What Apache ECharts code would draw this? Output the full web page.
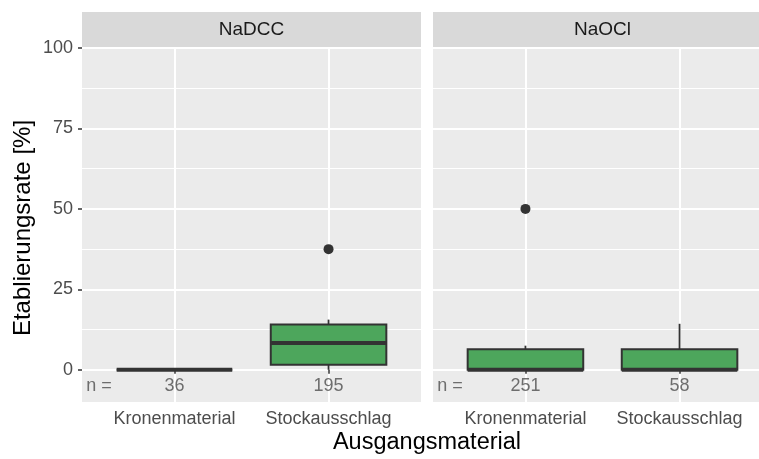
<!DOCTYPE html>
<html>
<head>
<meta charset="utf-8">
<script src="https://cdn.jsdelivr.net/npm/echarts@6/dist/echarts.min.js"></script>
<style>html,body{margin:0;padding:0;background:#fff}#c{width:759px;height:459px}</style>
</head>
<body>
<div id="c"></div>
<script>
// ---- data ----
const facets = ['NaDCC', 'NaOCl'];
const categories = ['Kronenmaterial', 'Stockausschlag'];
// [min, Q1, median, Q3, max] per category
const boxNaDCC = [[0, 0, 0, 0, 0], [0, 1.6, 8.3, 14.1, 15.6]];
const boxNaOCl = [[0, 0, 0, 6.4, 7.5], [0, 0, 0, 6.4, 14.3]];
// outliers [categoryIndex(1-based), value]
const outNaDCC = [[2, 37.5]];
const outNaOCl = [[1, 50]];
const countsNaDCC = [36, 195];
const countsNaOCl = [251, 58];
const yTicks = [0, 25, 50, 75, 100];
const yMinor = [12.5, 37.5, 62.5, 87.5];
const nLabelY = -5;

const chart = echarts.init(document.getElementById('c'), null, {renderer: 'canvas'});
const FONT = 'Liberation Sans, Arial, sans-serif';
const boxes = [boxNaDCC, boxNaOCl];
const outs = [outNaDCC, outNaOCl];
const counts = [countsNaDCC, countsNaOCl];

const panelLeft = [82, 433];
const panelW = 339, panelTop = 48, panelH = 354;

const grids = panelLeft.map(l => ({left: l, top: panelTop, width: panelW, height: panelH,
  backgroundColor: '#EBEBEB', show: true, borderWidth: 0, outerBoundsMode: 'none', containLabel: false}));

const catVals = categories.map((c, i) => i + 1);

const xAxes = [0, 1].map(g => ({
  type: 'value', gridIndex: g, min: 0.4, max: 2.6,
  axisLine: {show: false},
  axisTick: {show: true, customValues: catVals, length: 4, lineStyle: {color: '#333333', width: 1.5}},
  axisLabel: {show: true, customValues: catVals, formatter: v => categories[Math.round(v) - 1],
    color: '#4D4D4D', fontSize: 18, fontFamily: FONT, margin: 8},
  splitLine: {show: true, lineStyle: {color: '#FFFFFF', width: 2}}
}));

const yAxes = [0, 1].map(g => ({
  type: 'value', gridIndex: g, min: -10, max: 100,
  axisLine: {show: false},
  axisTick: {show: g === 0, customValues: yTicks, length: 4, lineStyle: {color: '#333333', width: 1.5}},
  axisLabel: {show: g === 0, customValues: yTicks, color: '#4D4D4D', fontSize: 18, fontFamily: FONT, margin: 9},
  splitLine: {show: true, lineStyle: {color: '#FFFFFF', width: 2}}
}));

const series = [];
[0, 1].forEach(g => {
  // minor grid lines
  series.push({
    type: 'line', xAxisIndex: g, yAxisIndex: g, data: [], silent: true, z: 0,
    markLine: {silent: true, z: 0, symbol: 'none', label: {show: false},
      lineStyle: {color: '#FFFFFF', width: 1, type: 'solid'},
      emphasis: {disabled: true},
      data: yMinor.map(v => ({yAxis: v}))}
  });
  // boxes
  series.push({
    type: 'custom', xAxisIndex: g, yAxisIndex: g, z: 6,
    data: boxes[g].map((b, i) => [i + 1].concat(b)),
    renderItem: function (params, api) {
      const x = api.value(0);
      const pMin = api.coord([x, api.value(1)]);
      const pQ1 = api.coord([x, api.value(2)]);
      const pMed = api.coord([x, api.value(3)]);
      const pQ3 = api.coord([x, api.value(4)]);
      const pMax = api.coord([x, api.value(5)]);
      const hw = api.size([0.75, 0])[0] / 2;
      const cx = pMed[0];
      return {type: 'group', children: [
        {type: 'line', shape: {x1: cx, y1: pQ3[1], x2: cx, y2: pMax[1]}, style: {stroke: '#333333', lineWidth: 1.8}},
        {type: 'line', shape: {x1: cx, y1: pQ1[1], x2: cx, y2: pMin[1]}, style: {stroke: '#333333', lineWidth: 1.8}},
        {type: 'rect', shape: {x: cx - hw, y: pQ3[1], width: 2 * hw, height: pQ1[1] - pQ3[1]},
          style: {fill: '#4DA65C', stroke: '#333333', lineWidth: 2}},
        {type: 'line', shape: {x1: cx - hw, y1: pMed[1], x2: cx + hw, y2: pMed[1]}, style: {stroke: '#333333', lineWidth: 4}}
      ]};
    }
  });
  // outliers
  series.push({
    type: 'scatter', xAxisIndex: g, yAxisIndex: g, z: 7,
    symbol: 'circle', symbolSize: 10, itemStyle: {color: '#333333', opacity: 1},
    data: outs[g]
  });
  // counts
  series.push({
    type: 'scatter', xAxisIndex: g, yAxisIndex: g, z: 8, symbolSize: 0,
    data: counts[g].map((n, i) => [i + 1, nLabelY, n]),
    label: {show: true, position: 'inside', formatter: p => String(p.value[2]),
      color: '#4D4D4D', fontSize: 18, fontFamily: FONT}
  });
  // "n =" label
  series.push({
    type: 'scatter', xAxisIndex: g, yAxisIndex: g, z: 8, symbolSize: 0,
    data: [[0.51, nLabelY]],
    label: {show: true, position: 'inside', formatter: 'n =', color: '#4D4D4D', fontSize: 18, fontFamily: FONT}
  });
});

const graphic = [];
panelLeft.forEach((l, g) => {
  graphic.push({type: 'rect', left: l, top: 12, shape: {width: panelW, height: 36}, style: {fill: '#D9D9D9'}, silent: true});
  graphic.push({type: 'text', x: l + panelW / 2, y: 30, style: {text: facets[g], fill: '#1A1A1A', font: '19px ' + FONT, textAlign: 'center', textVerticalAlign: 'middle'}, silent: true});
});
graphic.push({type: 'text', x: 427, y: 443, style: {text: 'Ausgangsmaterial', fill: '#000000', font: '23.5px ' + FONT, textAlign: 'center', textVerticalAlign: 'middle'}});
graphic.push({type: 'text', x: 23, y: 228, rotation: Math.PI / 2, style: {text: 'Etablierungsrate [%]', fill: '#000000', font: '24px ' + FONT, textAlign: 'center', textVerticalAlign: 'middle'}});

chart.setOption({
  animation: false,
  backgroundColor: '#FFFFFF',
  grid: grids,
  xAxis: xAxes,
  yAxis: yAxes,
  series: series,
  graphic: graphic
});
</script>
</body>
</html>
